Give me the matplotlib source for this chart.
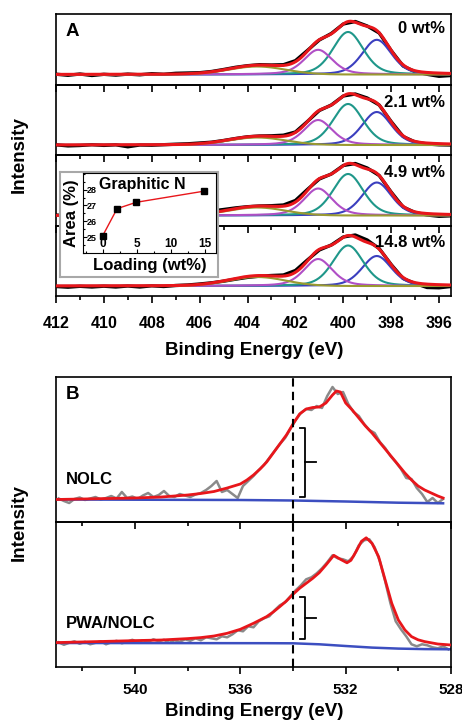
import numpy as np
import matplotlib.pyplot as plt
from matplotlib.ticker import MultipleLocator

plt.rcParams["font.family"] = ["Liberation Sans", "DejaVu Sans"]
plt.rcParams["font.weight"] = "bold"
plt.rcParams["axes.labelweight"] = "bold"

# ---- Panel A: N 1s fits (blue, teal, magenta, olive components) ----
loadings = ["0 wt%", "2.1 wt%", "4.9 wt%", "14.8 wt%"]
peak_centers = [398.6, 399.8, 401.05, 403.6]
peak_fwhm = [1.45, 1.5, 1.4, 2.8]
peak_lorentz = [0.3, 0.3, 0.4, 0.0]
peak_heights = [
    [34.7, 42.5, 24.7, 8.0],
    [33.0, 41.0, 25.0, 7.5],
    [33.0, 41.5, 27.0, 8.0],
    [30.0, 40.5, 27.0, 9.0],
]
comp_colors = ["#3b3fbf", "#1f978a", "#b04fc6", "#9a9a30"]

# measured spectra, 412 -> 395.5 eV in 0.5 eV steps
raw_a = [
    [0.3, -0.8, 0.5, -1.0, 0.2, -0.6, 0.4, -0.3, 0.8, 0.2, 1.2, 1.5, 1.8, 3.0, 5.0, 7.2, 8.8,
     9.8, 9.5, 9.8, 13.8, 24.0, 34.5, 41.0, 50.5, 53.0, 48.5, 41.5, 24.0, 8.5, 2.8, 0.2, -1.8, -1.0],
    [0.2, -0.9, -0.5, 0.3, -0.4, 0.2, -1.8, 0.0, -0.2, 0.3, 0.8, 1.2, 2.0, 2.8, 4.5, 6.5, 8.2,
     9.0, 9.2, 9.8, 13.0, 23.5, 34.5, 40.0, 49.0, 51.0, 47.0, 40.0, 23.5, 8.5, 3.0, 1.0, 0.2, 0.0],
    [0.5, -0.5, 0.3, -0.3, 0.5, 0.0, 0.4, 0.2, 0.6, 0.8, 1.3, 2.0, 3.0, 4.5, 6.0, 7.6, 8.8,
     9.5, 9.8, 10.5, 15.0, 26.0, 36.5, 41.5, 50.0, 52.0, 47.5, 40.0, 23.5, 8.5, 3.0, 0.5, -0.8, -0.3],
    [-0.5, -1.2, -0.3, -1.0, -0.2, -1.0, 0.0, -1.0, 0.2, -0.5, 0.5, 1.0, 2.0, 3.2, 4.8, 6.8, 8.6,
     9.8, 10.5, 11.0, 15.5, 26.0, 36.0, 41.0, 49.0, 51.0, 46.0, 37.5, 21.5, 7.5, 2.5, -1.5, -1.8, -0.5],
]
label_y = [0.79, 0.74, 0.745, 0.76]

# inset
inset_loading = [0, 2.1, 4.9, 14.8]
inset_area = [25.1, 26.8, 27.2, 27.9]

# ---- Panel B: O 1s ----
nolc_raw = [1.5, -1.0, -3.0, 1.0, 2.5, 0.0, 1.5, 3.0, 0.5, 2.0, 4.0, 1.5, 8.0, 2.0, 3.5, 1.0,
            4.5, 7.0, 3.0, 5.0, 9.0, 4.0, 3.0, 6.0, 4.5, 3.0, 5.5, 7.0, 10.0, 14.0, 19.0, 8.0,
            10.0, 6.0, 2.0, 14.0, 19.0, 24.0, 30.0, 35.0, 42.0, 49.0, 56.0, 62.0, 71.0, 80.0,
            87.0, 91.0, 90.0, 94.0, 92.0, 104.0, 113.0, 106.0, 108.0, 96.0, 88.0, 84.0, 76.0,
            70.0, 67.0, 58.0, 52.0, 44.0, 38.0, 31.0, 22.0, 21.0, 12.0, 6.0, -2.0, 2.0, -3.0, 1.0]
pwa_raw = [1.0, -1.5, 0.5, 2.0, -0.5, 1.5, -1.0, 0.5, 2.0, -1.0, 1.0, 2.5, 0.0, 1.5, 3.5, 1.0,
           3.0, 1.5, 4.0, 2.0, 3.5, 0.5, 3.0, 1.5, 4.0, 2.5, 5.0, 3.0, 6.0, 5.0, 4.0, 7.0, 6.0,
           9.0, 13.0, 12.0, 17.0, 16.0, 22.0, 25.0, 27.0, 33.0, 38.0, 41.0, 47.0, 53.0, 58.0,
           64.0, 66.0, 70.0, 75.0, 81.0, 88.0, 85.0, 84.0, 82.0, 87.0, 98.0, 103.0, 104.0, 96.0,
           82.0, 62.0, 40.0, 22.0, 14.0, 7.0, -1.0, -3.0, -1.0, -2.0, -4.0, -5.0, -3.0, -6.0]

nolc_fit_e = [543.0, 542, 541, 540, 539, 538.5, 538, 537.5, 537, 536.5, 536, 535.75, 535.5,
              535.25, 535, 534.75, 534.5, 534.25, 534, 533.75, 533.5, 533.25, 533, 532.75,
              532.5, 532.35, 532.2, 532, 531.75, 531.5, 531.25, 531, 530.75, 530.5, 530.25,
              530, 529.75, 529.5, 529.25, 529, 528.75, 528.5, 528.3]
nolc_fit = [0.5, 1, 1.5, 2, 3, 4, 5, 6.5, 8.5, 12, 16, 20, 25, 31, 38, 47, 56, 65, 76, 86, 91,
            92.5, 93, 97, 105, 109, 108, 97, 90, 82, 74, 67, 59, 51, 43, 35, 27, 20, 14, 10, 7,
            4, 2]
pwa_fit_e = [543.0, 541, 540, 539, 538, 537.5, 537, 536.5, 536, 535.5, 535, 534.75, 534.5,
             534.25, 534, 533.75, 533.5, 533.25, 533, 532.75, 532.45, 532.2, 531.95, 531.8,
             531.6, 531.4, 531.22, 531.0, 530.75, 530.5, 530.25, 530, 529.75, 529.5, 529.25,
             529, 528.5, 528.0]
pwa_fit = [0.7, 2, 2.7, 3.3, 4.7, 5.7, 7.3, 10, 14, 20, 26.7, 31.3, 36.7, 42.3, 49, 55, 60, 65,
           70.7, 78.3, 88, 84, 80.5, 83, 92, 102, 105.5, 100, 86.7, 63.3, 40, 23.3, 13.3, 6.7,
           3.5, 1.7, -0.7, -1.7]
nolc_bg_e = [543.0, 536, 534, 532, 530, 528.3]
nolc_bg = [0.5, 0.0, -0.5, -1.5, -2.7, -3.3]
pwa_bg_e = [543.0, 535, 534, 533, 532, 531, 530, 529, 528.0]
pwa_bg = [0.3, 0.1, 0.0, -1.0, -2.7, -4.3, -5.3, -5.8, -6.0]


def voigt(x, c, h, fwhm, eta):
    u = ((x - c) / fwhm) ** 2
    return h * ((1 - eta) * np.exp(-4 * np.log(2) * u) + eta / (1 + 4 * u))


W, H = 462, 720
fig = plt.figure(figsize=(W / 100, H / 100), dpi=100)


def style_axis(ax, show_labels, pad):
    ax.set_facecolor("none")
    for sp in ax.spines.values():
        sp.set_linewidth(1.2)
    ax.tick_params(which="both", direction="out", top=False, left=False, right=False,
                   labelleft=False, labelbottom=show_labels, width=1.2, labelsize=11.5)
    ax.tick_params(which="major", length=5, pad=pad)
    ax.tick_params(which="minor", length=3)
    ax.set_yticks([])


# Panel A
left, width = 56 / W, 395 / W
sub_h = 70.5
energy = np.linspace(412, 395.5, 500)
raw_energy = np.linspace(412, 395.5, 34)
axes_a = []
for i in range(4):
    ax = fig.add_axes([left, 1 - (14 + sub_h * (i + 1)) / H, width, sub_h / H])
    ax.plot(raw_energy, raw_a[i], color="black", lw=2.4, zorder=1)
    total = np.zeros_like(energy)
    for c, h, f, eta, col in zip(peak_centers, peak_heights[i], peak_fwhm, peak_lorentz, comp_colors):
        comp = voigt(energy, c, h, f, eta)
        total += comp
        ax.plot(energy, comp, color=col, lw=1.5, zorder=2)
    ax.plot(energy, total, color="#e8161b", lw=2.2, zorder=3)
    ax.set_xlim(412, 395.5)
    ax.set_ylim(-10, 60.5)
    ax.xaxis.set_major_locator(MultipleLocator(2))
    ax.xaxis.set_minor_locator(MultipleLocator(1))
    style_axis(ax, i == 3, 9.5)
    ax.text(0.985, label_y[i], loadings[i], transform=ax.transAxes, ha="right", va="center",
            fontsize=12, fontweight="bold")
    axes_a.append(ax)
axes_a[0].text(0.025, 0.745, "A", transform=axes_a[0].transAxes, ha="left", va="center",
               fontsize=13.5, fontweight="bold")

# inset box and inset plot
box = fig.add_axes([60 / W, 1 - 277 / H, 158 / W, 105 / H])
box.set_xticks([])
box.set_yticks([])
for sp in box.spines.values():
    sp.set_color("#a8a8a8")
    sp.set_linewidth(1.5)
box.set_facecolor("white")

ins = fig.add_axes([83 / W, 1 - 253 / H, 133 / W, 80 / H])
ins.plot(inset_loading, inset_area, color="#e8161b", lw=1, marker="s", ms=4,
         mfc="black", mec="black")
ins.set_xlim(-2.9, 16.6)
ins.set_ylim(24.0, 29.05)
ins.set_xticks([0, 5, 10, 15])
ins.set_yticks([25, 26, 27, 28])
ins.xaxis.set_minor_locator(MultipleLocator(2.5))
ins.yaxis.set_minor_locator(MultipleLocator(0.5))
for sp in ins.spines.values():
    sp.set_linewidth(0.8)
ins.tick_params(which="both", direction="in", width=0.8, top=False, right=False)
ins.tick_params(which="major", length=3)
ins.tick_params(which="minor", length=1.5)
ins.tick_params(axis="x", labelsize=8.5, pad=-11)
ins.tick_params(axis="y", labelsize=6.5, pad=-10)
ins.set_xlabel("Loading (wt%)", fontsize=12, fontweight="bold")
ins.set_ylabel("Area (%)", fontsize=12, fontweight="bold")
ins.xaxis.set_label_coords(0.5, -0.06)
ins.yaxis.set_label_coords(-0.03, 0.5)
ins.text(0.12, 0.85, "Graphitic N", transform=ins.transAxes, ha="left", va="center",
         fontsize=11.5, fontweight="bold")

fig.text(254 / W, 1 - 350 / H, "Binding Energy (eV)", ha="center", va="center", fontsize=13.5)
fig.text(19 / W, 1 - 155 / H, "Intensity", ha="center", va="center", rotation=90, fontsize=13.5)

# Panel B
b_h = 145
samples = [
    ("NOLC", nolc_raw, 528.3, nolc_fit_e, nolc_fit, nolc_bg_e, nolc_bg, (-22, 123), (72, 3, 38)),
    ("PWA/NOLC", pwa_raw, 528.1, pwa_fit_e, pwa_fit, pwa_bg_e, pwa_bg, (-23.7, 121.3), (46, 4, 25)),
]
axes_b = []
for i, (name, raw, e_end, fe, fv, be, bv, ylim, brk) in enumerate(samples):
    ax = fig.add_axes([left, 1 - (377 + b_h * (i + 1)) / H, width, b_h / H])
    ax.plot(np.linspace(542.9, e_end, len(raw)), raw, color="#8a8a8a", lw=1.8, zorder=1)
    ax.plot(be, bv, color="#3c4ec0", lw=1.8, zorder=2)
    ax.plot(fe, fv, color="#e8161b", lw=2, zorder=3)
    ax.axvline(534, color="black", lw=1.5, ls=(0, (4, 2.5)), zorder=4)
    top, bot, mid = brk
    ax.plot([533.74, 533.55, 533.55, 533.74], [top, top, bot, bot], color="black", lw=1.3)
    ax.plot([533.55, 533.13], [mid, mid], color="black", lw=1.3)
    ax.text(542.62, 20, name, ha="left", va="center", fontsize=12, fontweight="bold")
    ax.set_xlim(543, 528)
    ax.set_ylim(*ylim)
    ax.xaxis.set_major_locator(MultipleLocator(4))
    ax.xaxis.set_minor_locator(MultipleLocator(2))
    style_axis(ax, i == 1, 6.5)
    ax.tick_params(labelsize=11)
    axes_b.append(ax)
axes_b[0].text(0.025, 0.877, "B", transform=axes_b[0].transAxes, ha="left", va="center",
               fontsize=13.5, fontweight="bold")

fig.text(254 / W, 1 - 711 / H, "Binding Energy (eV)", ha="center", va="center", fontsize=13.5)
fig.text(19 / W, 1 - 523 / H, "Intensity", ha="center", va="center", rotation=90, fontsize=13.5)

fig.savefig("out.png", dpi=100)
